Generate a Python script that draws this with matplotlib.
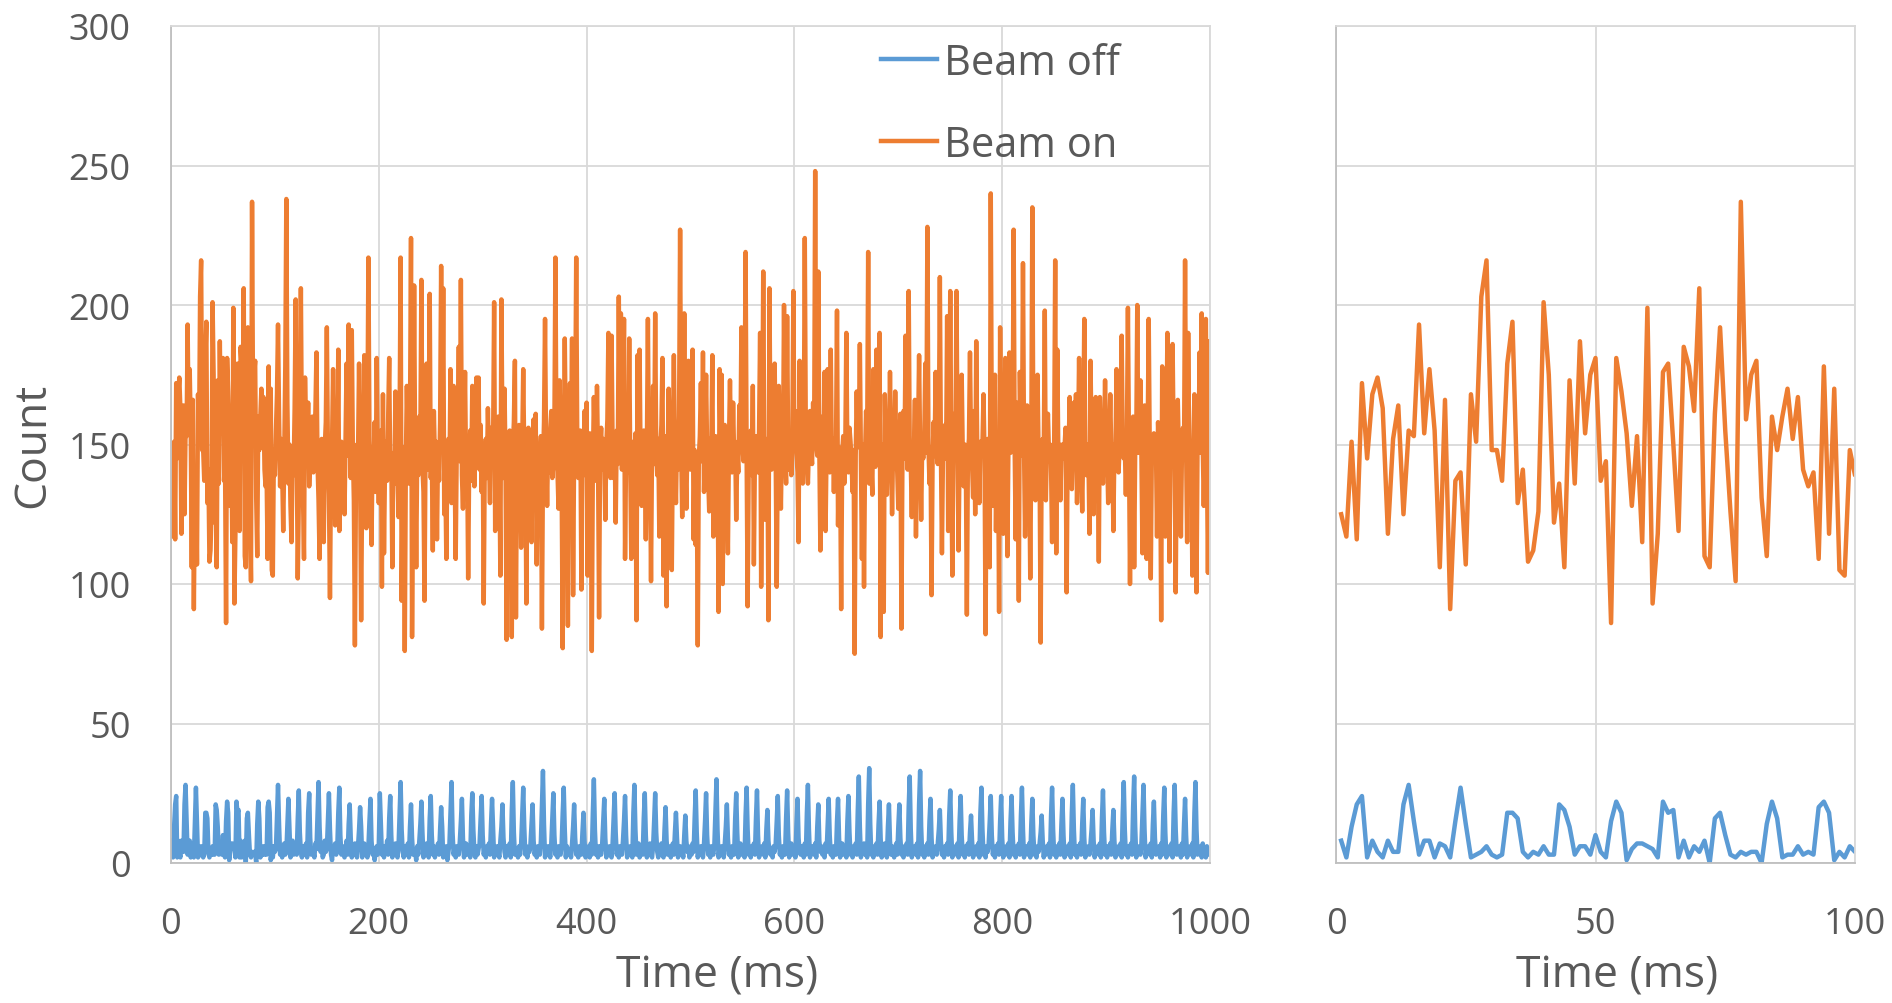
import numpy as np
import matplotlib.pyplot as plt

plt.rcParams['font.family'] = ['Open Sans', 'DejaVu Sans']

# counts per 1 ms bin, t = 1..1000 ms
beam_off = [
    8, 2, 13, 21, 24, 2, 8, 4, 2, 8, 4, 4, 21, 28, 15, 3, 8, 8, 2, 7,
    6, 2, 15, 27, 14, 2, 3, 4, 6, 3, 2, 3, 18, 18, 16, 4, 2, 4, 3, 6,
    3, 3, 21, 19, 13, 3, 6, 6, 3, 10, 4, 2, 15, 22, 18, 1, 5, 7, 7, 6,
    5, 2, 22, 18, 19, 2, 8, 2, 6, 4, 8, 0, 16, 18, 10, 3, 2, 4, 3, 4,
    4, 0, 14, 22, 16, 2, 3, 3, 6, 3, 4, 3, 20, 22, 18, 1, 4, 2, 6, 4,
    5, 17, 28, 14, 3, 6, 2, 5, 7, 3, 4, 14, 23, 12, 2, 5, 8, 3, 4, 6,
    3, 16, 26, 11, 4, 2, 6, 5, 3, 7, 2, 18, 25, 9, 3, 5, 4, 2, 7, 5,
    17, 29, 13, 4, 6, 2, 3, 8, 4, 5, 15, 25, 12, 3, 1, 6, 4, 7, 3, 5,
    18, 27, 10, 3, 6, 4, 2, 5, 8, 3, 14, 21, 9, 2, 5, 3, 7, 4, 2, 6,
    12, 20, 13, 2, 4, 7, 3, 5, 2, 6, 15, 23, 8, 3, 5, 1, 4, 6, 3, 7,
    25, 14, 3, 5, 2, 6, 4, 8, 3, 16, 24, 10, 2, 5, 3, 7, 4, 2, 6, 17,
    29, 12, 4, 2, 6, 3, 5, 7, 2, 13, 21, 9, 3, 5, 4, 1, 6, 3, 8, 14,
    22, 11, 2, 5, 3, 7, 4, 2, 16, 24, 10, 3, 6, 2, 5, 4, 7, 3, 12, 20,
    13, 2, 5, 3, 6, 1, 4, 7, 18, 29, 11, 3, 5, 2, 6, 4, 3, 8, 15, 23,
    9, 2, 5, 7, 3, 4, 6, 2, 17, 25, 12, 4, 2, 6, 3, 5, 7, 16, 24, 10,
    3, 5, 2, 6, 4, 7, 3, 14, 23, 12, 2, 5, 3, 6, 4, 2, 8, 13, 21, 9,
    4, 2, 6, 3, 5, 7, 2, 19, 29, 11, 3, 5, 4, 2, 6, 3, 7, 17, 27, 13,
    3, 6, 2, 5, 4, 7, 14, 21, 8, 3, 5, 2, 6, 4, 3, 8, 20, 33, 14, 2,
    5, 3, 6, 4, 2, 7, 16, 25, 10, 3, 5, 2, 6, 4, 3, 7, 18, 27, 12, 2,
    6, 4, 3, 5, 2, 7, 13, 21, 9, 3, 5, 2, 6, 4, 3, 11, 18, 8, 2, 5,
    4, 6, 2, 7, 3, 18, 30, 12, 3, 5, 2, 6, 4, 3, 7, 15, 23, 9, 2, 5,
    3, 6, 4, 2, 7, 16, 25, 11, 3, 5, 2, 6, 4, 3, 8, 15, 24, 10, 2, 5,
    3, 6, 4, 2, 18, 28, 12, 3, 5, 7, 2, 4, 6, 3, 16, 25, 10, 2, 5, 4,
    7, 3, 2, 6, 15, 25, 11, 4, 2, 5, 3, 7, 4, 2, 12, 20, 8, 3, 6, 4,
    2, 5, 7, 3, 11, 18, 9, 2, 4, 6, 3, 5, 2, 10, 17, 8, 4, 6, 2, 5,
    3, 7, 4, 16, 26, 11, 2, 5, 3, 6, 4, 2, 7, 15, 25, 10, 3, 5, 2, 6,
    4, 3, 7, 19, 30, 12, 2, 5, 3, 6, 4, 2, 7, 13, 21, 9, 3, 5, 2, 6,
    4, 3, 16, 25, 11, 2, 5, 7, 3, 4, 6, 2, 17, 27, 12, 3, 5, 2, 6, 4,
    7, 3, 16, 26, 10, 2, 5, 4, 6, 3, 7, 2, 12, 19, 8, 4, 3, 5, 2, 6,
    4, 7, 15, 24, 10, 3, 5, 2, 6, 4, 3, 16, 26, 11, 2, 5, 7, 3, 4, 6,
    2, 14, 23, 9, 4, 3, 6, 5, 2, 7, 3, 18, 28, 12, 2, 5, 4, 6, 3, 7,
    2, 13, 21, 8, 4, 6, 3, 5, 2, 7, 4, 14, 23, 10, 3, 5, 2, 6, 4, 3,
    15, 23, 9, 2, 5, 7, 3, 4, 6, 2, 15, 24, 11, 3, 5, 2, 6, 4, 7, 3,
    19, 31, 13, 2, 5, 4, 7, 3, 6, 2, 21, 34, 14, 3, 5, 2, 6, 4, 7, 3,
    14, 22, 9, 2, 5, 3, 7, 4, 2, 13, 21, 8, 3, 6, 4, 2, 5, 7, 3, 13,
    21, 9, 3, 5, 2, 6, 4, 7, 3, 20, 31, 12, 2, 5, 4, 6, 3, 7, 2, 21,
    33, 13, 3, 5, 2, 6, 4, 7, 3, 15, 23, 9, 2, 5, 4, 6, 3, 7, 12, 19,
    8, 3, 5, 2, 6, 4, 7, 3, 17, 26, 11, 2, 5, 4, 6, 3, 7, 2, 15, 24,
    10, 3, 5, 2, 6, 4, 7, 3, 11, 17, 8, 2, 5, 4, 6, 3, 7, 2, 18, 27,
    12, 3, 5, 2, 6, 4, 7, 15, 24, 10, 3, 5, 2, 6, 4, 7, 3, 15, 24, 9,
    2, 5, 4, 6, 3, 7, 2, 15, 24, 11, 3, 5, 2, 6, 4, 7, 3, 17, 27, 12,
    2, 5, 4, 6, 3, 7, 2, 14, 23, 10, 3, 5, 2, 6, 4, 7, 11, 17, 8, 2,
    5, 3, 6, 4, 7, 2, 17, 27, 12, 3, 5, 2, 6, 4, 7, 3, 14, 23, 10, 2,
    5, 4, 6, 3, 7, 2, 18, 28, 12, 3, 5, 2, 6, 4, 7, 3, 14, 23, 9, 2,
    5, 4, 6, 3, 7, 12, 19, 8, 2, 5, 4, 6, 3, 7, 2, 16, 26, 11, 3, 5,
    2, 6, 4, 7, 3, 12, 19, 8, 2, 5, 4, 6, 3, 7, 2, 18, 29, 12, 3, 5,
    2, 6, 4, 7, 3, 20, 31, 13, 2, 5, 4, 6, 3, 7, 18, 28, 12, 2, 5, 4,
    6, 3, 7, 2, 14, 22, 9, 3, 5, 4, 6, 2, 7, 3, 17, 27, 11, 2, 5, 4,
    6, 3, 7, 2, 18, 28, 12, 3, 5, 4, 6, 2, 7, 3, 14, 23, 10, 2, 5, 4,
    6, 3, 7, 2, 18, 29, 12, 3, 5, 4, 6, 2, 7, 3, 5, 2, 6, 4, 3, 5,
]

beam_on = [
    125, 117, 151, 116, 172, 145, 168, 174, 163, 118, 152, 164, 125, 155, 153, 193, 154, 177, 155, 106,
    166, 91, 137, 140, 107, 168, 151, 203, 216, 148, 148, 137, 179, 194, 129, 141, 108, 112, 126, 201,
    175, 122, 136, 106, 173, 136, 187, 154, 175, 181, 137, 144, 86, 181, 169, 154, 128, 153, 115, 199,
    93, 118, 176, 179, 150, 119, 185, 178, 162, 206, 110, 106, 161, 192, 155, 126, 101, 237, 159, 175,
    180, 131, 110, 160, 148, 160, 170, 152, 167, 141, 135, 140, 109, 178, 118, 170, 105, 103, 148, 139,
    155, 168, 193, 160, 135, 152, 141, 119, 146, 178, 238, 165, 136, 150, 128, 115, 147, 139, 163, 202,
    148, 102, 131, 157, 206, 149, 133, 109, 174, 152, 143, 165, 135, 147, 154, 160, 140, 151, 162, 183,
    144, 130, 109, 138, 152, 140, 115, 149, 158, 192, 147, 132, 95, 141, 150, 177, 144, 121, 146, 139,
    184, 119, 142, 151, 137, 148, 125, 153, 179, 146, 193, 155, 138, 191, 149, 130, 78, 135, 150, 146,
    179, 141, 87, 137, 148, 182, 139, 120, 155, 217, 153, 136, 114, 149, 141, 158, 133, 181, 145, 129,
    147, 155, 99, 168, 111, 143, 151, 137, 160, 181, 139, 147, 106, 144, 136, 169, 150, 141, 124, 156,
    217, 94, 138, 149, 76, 142, 171, 150, 136, 157, 224, 81, 140, 207, 145, 106, 148, 139, 160, 152,
    209, 142, 133, 94, 150, 179, 141, 156, 204, 138, 147, 112, 162, 144, 151, 116, 149, 137, 158, 214,
    148, 206, 125, 140, 109, 146, 152, 138, 177, 129, 150, 171, 142, 109, 148, 156, 185, 144, 209, 139,
    127, 150, 176, 140, 148, 102, 143, 155, 137, 171, 149, 135, 152, 174, 146, 174, 141, 157, 133, 150,
    93, 145, 152, 138, 163, 147, 129, 156, 142, 150, 201, 119, 148, 137, 160, 146, 103, 202, 151, 138,
    170, 142, 80, 147, 133, 155, 141, 81, 149, 158, 180, 88, 150, 144, 157, 139, 113, 148, 177, 146,
    152, 93, 140, 156, 141, 150, 115, 146, 159, 137, 161, 107, 148, 139, 144, 153, 84, 142, 158, 195,
    149, 128, 151, 140, 155, 162, 138, 143, 156, 217, 148, 140, 127, 173, 150, 136, 77, 145, 188, 149,
    141, 85, 150, 172, 146, 188, 96, 148, 157, 217, 151, 138, 147, 155, 98, 144, 139, 162, 150, 165,
    103, 145, 154, 139, 76, 142, 167, 148, 137, 171, 145, 88, 149, 156, 141, 152, 146, 123, 150, 159,
    190, 145, 138, 189, 151, 138, 149, 122, 155, 143, 203, 150, 197, 141, 152, 195, 109, 146, 155, 140,
    188, 144, 109, 147, 151, 139, 154, 87, 182, 146, 184, 142, 128, 150, 155, 141, 116, 148, 195, 140,
    147, 101, 150, 171, 143, 197, 148, 139, 152, 117, 149, 157, 181, 103, 146, 153, 92, 144, 170, 148,
    139, 105, 150, 182, 145, 129, 153, 141, 160, 227, 150, 124, 149, 197, 143, 127, 152, 180, 147, 141,
    152, 184, 116, 148, 114, 140, 78, 145, 153, 172, 144, 183, 133, 150, 175, 147, 139, 126, 152, 146,
    182, 117, 148, 153, 141, 150, 90, 177, 146, 175, 100, 143, 157, 146, 138, 111, 150, 173, 147, 140,
    165, 145, 151, 123, 147, 140, 164, 148, 192, 150, 144, 156, 219, 148, 92, 142, 150, 155, 139, 171,
    107, 146, 153, 149, 140, 155, 190, 99, 147, 212, 150, 123, 145, 152, 87, 206, 148, 141, 149, 156,
    179, 145, 99, 148, 171, 150, 127, 152, 145, 200, 149, 136, 196, 147, 141, 153, 139, 150, 205, 148,
    162, 147, 140, 115, 180, 150, 172, 136, 149, 224, 152, 145, 136, 150, 162, 148, 143, 165, 151, 248,
    150, 146, 212, 148, 112, 147, 160, 141, 176, 119, 150, 177, 146, 140, 184, 144, 152, 133, 150, 147,
    198, 121, 149, 143, 91, 147, 153, 136, 150, 190, 145, 140, 156, 151, 144, 133, 148, 75, 146, 169,
    149, 152, 186, 145, 109, 150, 99, 146, 162, 148, 219, 136, 150, 144, 132, 177, 150, 142, 184, 148,
    151, 190, 81, 145, 150, 90, 168, 147, 132, 151, 146, 176, 149, 125, 150, 143, 169, 148, 140, 127,
    150, 161, 84, 147, 162, 145, 189, 150, 141, 205, 149, 144, 124, 150, 147, 166, 117, 149, 153, 182,
    148, 123, 150, 145, 152, 179, 147, 228, 150, 136, 149, 96, 145, 158, 150, 176, 146, 143, 152, 210,
    148, 111, 147, 150, 157, 145, 196, 119, 150, 205, 146, 103, 149, 161, 147, 205, 150, 112, 148, 153,
    175, 148, 135, 150, 144, 89, 147, 152, 183, 149, 143, 131, 162, 125, 187, 147, 150, 129, 151, 148,
    150, 168, 146, 82, 148, 152, 143, 106, 240, 150, 128, 149, 175, 119, 147, 150, 90, 192, 148, 145,
    118, 149, 181, 146, 110, 150, 183, 147, 151, 148, 227, 149, 116, 165, 147, 94, 176, 150, 146, 215,
    149, 117, 150, 164, 147, 144, 102, 150, 235, 148, 146, 130, 150, 175, 147, 143, 79, 148, 152, 146,
    198, 130, 149, 161, 147, 150, 143, 115, 150, 148, 216, 111, 184, 147, 150, 130, 148, 150, 145, 149,
    156, 97, 148, 150, 167, 146, 134, 150, 165, 147, 168, 129, 150, 181, 148, 144, 126, 150, 195, 147,
    139, 150, 146, 118, 180, 149, 145, 125, 150, 167, 147, 148, 108, 167, 150, 145, 136, 150, 173, 148,
    147, 129, 150, 168, 146, 149, 119, 150, 147, 177, 148, 140, 150, 146, 189, 148, 145, 150, 132, 151,
    199, 148, 100, 147, 150, 160, 106, 148, 150, 200, 147, 150, 173, 146, 111, 149, 164, 147, 109, 150,
    195, 148, 102, 147, 150, 154, 146, 149, 117, 158, 147, 150, 87, 178, 148, 146, 117, 150, 190, 148,
    108, 149, 147, 186, 150, 146, 97, 149, 166, 147, 150, 117, 148, 156, 146, 216, 149, 115, 190, 148,
    147, 150, 103, 148, 168, 146, 97, 149, 150, 183, 147, 197, 150, 128, 148, 195, 146, 104, 150, 187,
]

t_off = np.arange(1, len(beam_off) + 1)
t_on = np.arange(1, len(beam_on) + 1)

blue = '#5B9BD5'
orange = '#ED7D31'
txt = '#595959'
grid = '#d9d9d9'

fig = plt.figure(figsize=(18.92, 10.04), dpi=100)
ax1 = fig.add_axes([171 / 1892, 140 / 1004, 1039 / 1892, 837 / 1004])
ax2 = fig.add_axes([1336 / 1892, 140 / 1004, 519 / 1892, 837 / 1004])

for ax, xmax, xticks in [(ax1, 1000, range(0, 1001, 200)), (ax2, 100, [0, 50, 100])]:
    ax.plot(t_off, beam_off, color=blue, lw=3.2, label='Beam off')
    ax.plot(t_on, beam_on, color=orange, lw=3.2, label='Beam on')
    ax.set_xlim(0, xmax)
    ax.set_ylim(0, 300)
    ax.set_xticks(list(xticks))
    ax.set_yticks(range(0, 301, 50))
    ax.grid(color=grid, lw=1.3)
    ax.set_axisbelow(True)
    for s in ax.spines.values():
        s.set_color(grid)
        s.set_linewidth(1.3)
    ax.spines['bottom'].set_color('#bfbfbf')
    ax.spines['left'].set_color('#bfbfbf')
    ax.tick_params(length=0, labelsize=26, labelcolor=txt)
    ax.tick_params(axis='x', pad=31)
    ax.tick_params(axis='y', pad=29)
    ax.set_xlabel('Time (ms)', fontsize=32, color=txt, va='center')

ax2.tick_params(labelleft=False)
ax1.xaxis.set_label_coords(0.5255, -0.134)
ax2.xaxis.set_label_coords(0.541, -0.134)
ax1.set_ylabel('Count', fontsize=32, color=txt, va='center')
ax1.yaxis.set_label_coords(-0.1328, 0.5)

ax1.legend(loc='upper left', bbox_to_anchor=(881 / 1892, 1 - 43 / 1004),
           bbox_transform=fig.transFigure, frameon=False, fontsize=30,
           handlelength=1.35, handletextpad=0.15, labelspacing=0.95,
           borderpad=0, borderaxespad=0, labelcolor=txt)

fig.savefig('out.png', dpi=100)
